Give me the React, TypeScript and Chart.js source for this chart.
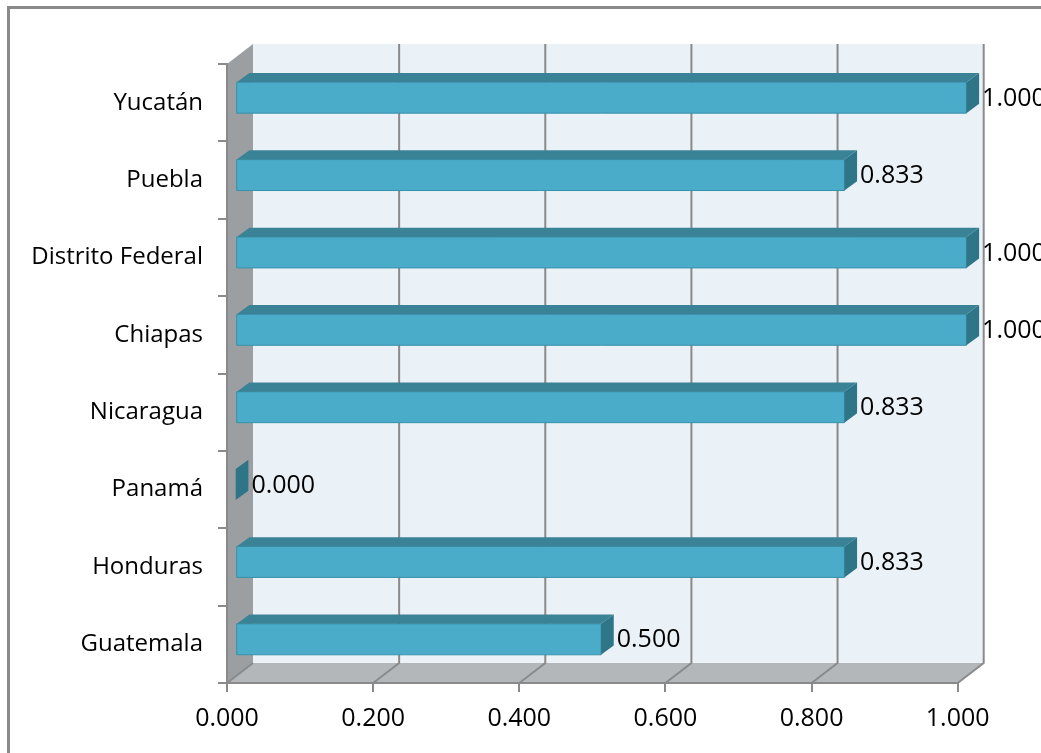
import React, { useEffect, useRef } from "react";
import { Chart, registerables } from "chart.js";

Chart.register(...registerables);

const categories = ["Yucatán", "Puebla", "Distrito Federal", "Chiapas", "Nicaragua", "Panamá", "Honduras", "Guatemala"];
const values = [1.0, 0.833, 1.0, 1.0, 0.833, 0.0, 0.833, 0.5];
const xTickValues = [0, 0.2, 0.4, 0.6, 0.8, 1.0];

const FONT = "'Open Sans', 'DejaVu Sans', sans-serif";
const DX = 26;
const DY = -20;
const BAR_OFF_X = 8.7;
const BAR_OFF_Y = -5;
const BAR_DX = 12.7;
const BAR_DY = -9.3;
const GRID = "#8a8a8a";

function poly(ctx: CanvasRenderingContext2D, pts: number[][], fill: string, stroke?: string) {
  ctx.beginPath();
  ctx.moveTo(pts[0][0], pts[0][1]);
  for (let i = 1; i < pts.length; i++) ctx.lineTo(pts[i][0], pts[i][1]);
  ctx.closePath();
  ctx.fillStyle = fill;
  ctx.fill();
  if (stroke) {
    ctx.strokeStyle = stroke;
    ctx.lineWidth = 1;
    ctx.stroke();
  }
}

const threeD = {
  id: "threeD",
  beforeDraw(chart: any) {
    const { ctx, chartArea: a, scales } = chart;
    const xs = scales.x;
    ctx.save();
    ctx.fillStyle = "#ffffff";
    ctx.fillRect(0, 0, chart.width, chart.height);
    ctx.strokeStyle = "#8a8a8a";
    ctx.lineWidth = 3;
    ctx.strokeRect(8.5, 7.5, chart.width + 40, chart.height + 40);
    // back wall
    ctx.fillStyle = "#eaf1f7";
    ctx.fillRect(a.left + DX, a.top + DY, a.right - a.left, a.bottom - a.top);
    // side wall
    poly(ctx, [[a.left, a.top], [a.left + DX, a.top + DY], [a.left + DX, a.bottom + DY], [a.left, a.bottom]], "#9c9fa2");
    // floor
    poly(ctx, [[a.left, a.bottom], [a.left + DX, a.bottom + DY], [a.right + DX, a.bottom + DY], [a.right, a.bottom]], "#b4b7ba");
    // gridlines
    ctx.strokeStyle = GRID;
    ctx.lineWidth = 2;
    xTickValues.forEach((v) => {
      const px = xs.getPixelForValue(v);
      ctx.beginPath();
      ctx.moveTo(px, a.bottom);
      ctx.lineTo(px + DX, a.bottom + DY);
      if (v !== 0) ctx.lineTo(px + DX, a.top + DY);
      ctx.stroke();
    });
    ctx.restore();
  },
  afterDatasetsDraw(chart: any) {
    const { ctx } = chart;
    const meta = chart.getDatasetMeta(0);
    const data = chart.data.datasets[0].data;
    ctx.save();
    meta.data.forEach((el: any, i: number) => {
      const p = el.getProps(["x", "y", "base", "height"], true);
      const h = p.height;
      const x0 = p.base + BAR_OFF_X;
      const x1 = p.x + BAR_OFF_X;
      const y0 = p.y + BAR_OFF_Y - h / 2;
      const y1 = y0 + h;
      if (x1 - x0 > 0.5) {
        poly(ctx, [[x0, y0], [x1, y0], [x1, y1], [x0, y1]], "#4aacc8", "#3791ab");
        poly(ctx, [[x0, y0], [x0 + BAR_DX, y0 + BAR_DY], [x1 + BAR_DX, y0 + BAR_DY], [x1, y0]], "#3a8296");
      }
      poly(ctx, [[x1, y0], [x1 + BAR_DX, y0 + BAR_DY], [x1 + BAR_DX, y1 + BAR_DY], [x1, y1]], "#2f7588");
      ctx.fillStyle = "#000000";
      ctx.font = `25px ${FONT}`;
      ctx.textAlign = "left";
      ctx.textBaseline = "middle";
      ctx.fillText(Number(data[i]).toFixed(3), x1 + BAR_DX + 3, p.y + BAR_OFF_Y + 1);
    });
    ctx.restore();
  },
};

export default function App() {
  const ref = useRef<HTMLCanvasElement>(null);
  useEffect(() => {
    document.body.style.margin = "0";
    const chart = new Chart(ref.current!, {
      type: "bar",
      data: {
        labels: categories,
        datasets: [
          {
            data: values,
            backgroundColor: "rgba(0,0,0,0)",
            borderWidth: 0,
            categoryPercentage: 1,
            barPercentage: 0.4,
          },
        ],
      },
      options: {
        indexAxis: "y",
        responsive: false,
        animation: false,
        layout: { padding: { left: 0, top: 64, right: 83.3, bottom: 0 } },
        plugins: { legend: { display: false }, tooltip: { enabled: false } },
        scales: {
          x: {
            min: 0,
            max: 1,
            afterBuildTicks: (s: any) => {
              s.ticks = xTickValues.map((v) => ({ value: v }));
            },
            afterFit: (s: any) => {
              s.height = 70;
            },
            ticks: {
              callback: (v: any) => Number(v).toFixed(3),
              font: { family: FONT, size: 25 },
              color: "#000",
              padding: 12,
              maxRotation: 0,
            },
            grid: { drawOnChartArea: false, drawTicks: true, tickLength: 9, color: GRID, lineWidth: 2 },
            border: { display: true, color: GRID, width: 2 },
          },
          y: {
            afterFit: (s: any) => {
              s.width = 227;
            },
            ticks: {
              font: { family: FONT, size: 24 },
              color: "#000",
              padding: 15,
            },
            grid: { drawOnChartArea: false, drawTicks: true, tickLength: 9, color: GRID, lineWidth: 2 },
            border: { display: true, color: GRID, width: 2 },
          },
        },
      },
      plugins: [threeD],
    } as any);
    return () => chart.destroy();
  }, []);
  return (
    <div style={{ position: "absolute", left: 0, top: 0, width: 1041, height: 753 }}>
      <canvas ref={ref} width={1041} height={753} />
    </div>
  );
}
